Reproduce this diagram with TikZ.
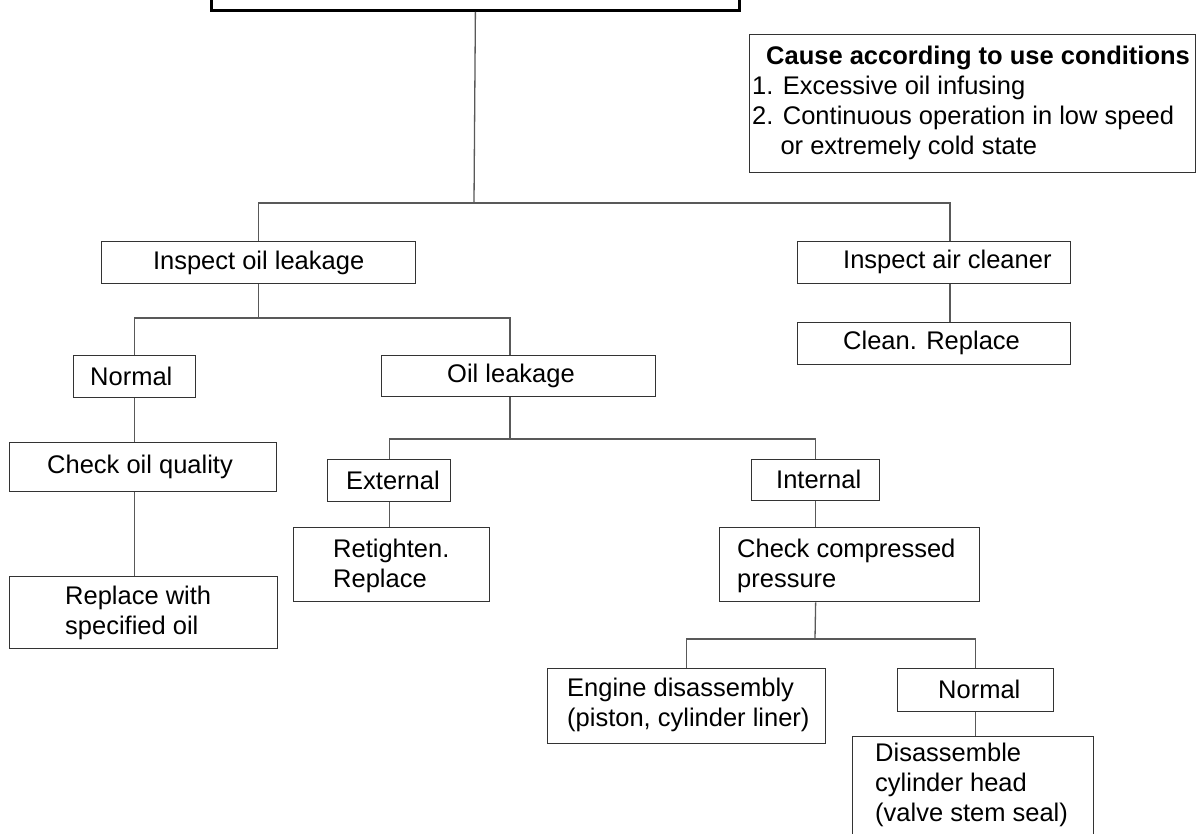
\documentclass[tikz,border=0pt]{standalone}
\usepackage{fontspec}
\setmainfont{Liberation Sans}
\begin{document}
\begin{tikzpicture}[x=1pt,y=-1pt,
  box/.style={draw=black!80, line width=1.3pt, rectangle, inner sep=0pt, anchor=north west},
  txt/.style={font=\fontsize{25.5}{30}\selectfont, inner sep=0pt, align=left, anchor=west},
  conn/.style={draw=black!65, line width=1.3pt}]
\clip (0,0) rectangle (1200,834);
\fill[white] (0,0) rectangle (1200,834);

% boxes
\node[box, draw=black, line width=2.8pt, minimum width=528pt, minimum height=49pt] (top) at (210,-40) {};
\node[box, minimum width=446pt, minimum height=138pt] (cause) at (749,34) {};
\node[box, minimum width=314pt, minimum height=42pt] (ioil) at (101,241) {};
\node[box, minimum width=273pt, minimum height=42pt] (iair) at (797,241) {};
\node[box, minimum width=273pt, minimum height=42pt] (clean) at (797,322) {};
\node[box, minimum width=122pt, minimum height=42pt] (norm1) at (73,355) {};
\node[box, minimum width=274pt, minimum height=41pt] (oleak) at (381,355) {};
\node[box, minimum width=267pt, minimum height=49pt] (coq) at (9,442) {};
\node[box, minimum width=268pt, minimum height=72pt] (repl) at (9,576) {};
\node[box, minimum width=123pt, minimum height=42pt] (ext) at (327,459) {};
\node[box, minimum width=128pt, minimum height=41pt] (int) at (751,459) {};
\node[box, minimum width=196pt, minimum height=74pt] (ret) at (293,527) {};
\node[box, minimum width=260pt, minimum height=74pt] (ccp) at (719,527) {};
\node[box, minimum width=278pt, minimum height=75pt] (eng) at (547,668) {};
\node[box, minimum width=156pt, minimum height=43pt] (nor2) at (897,668) {};
\node[box, minimum width=241pt, minimum height=130pt] (dis) at (852,736) {};

% texts
\node[txt] (tcause) at (752,103)
  {\hspace*{14pt}\textbf{Cause according to use conditions}\\
   1. Excessive oil infusing\\
   2. Continuous operation in low speed\\
   \hphantom{2.\ }or extremely cold state};
\node[txt, anchor=center] (tioil) at (ioil.center) {Inspect oil leakage};
\node[txt] (tiair) at (843,262) {Inspect air cleaner};
\node[txt] (tclean) at (843,343) {Clean. Replace};
\node[txt] (tnorm1) at (90,376) {Normal};
\node[txt] (toleak) at (447,376) {Oil leakage};
\node[txt] (tcoq) at (47,467) {Check oil quality};
\node[txt] (trepl) at (65,613) {Replace with\\specified oil};
\node[txt] (text) at (346,480) {External};
\node[txt] (tint) at (776,479) {Internal};
\node[txt] (tret) at (333,566) {Retighten.\\Replace};
\node[txt] (tccp) at (737,566) {Check compressed\\pressure};
\node[txt] (teng) at (567,705) {Engine disassembly\\(piston, cylinder liner)};
\node[txt] (tnor2) at (938,689) {Normal};
\node[txt] (tdis) at (875,785) {Disassemble\\cylinder head\\(valve stem seal)};

% connectors
\coordinate (b1) at (474,203);
\coordinate (b1r) at (950,203);
\draw[conn] (top.south) -- (b1);
\draw[conn] (ioil.north) |- (b1r) -- (b1r |- iair.north);
\draw[conn] (b1r |- iair.south) -- (b1r |- clean.north);

\coordinate (b2l) at (134,318);
\coordinate (b2r) at (510,318);
\draw[conn] (ioil.south) -- (ioil.south |- b2l);
\draw[conn] (norm1.north) |- (b2r) -- (b2r |- oleak.north);
\draw[conn] (norm1.south) -- (norm1.south |- coq.north);
\draw[conn] (norm1.south |- coq.south) -- (norm1.south |- repl.north);

\coordinate (b3) at (510,439);
\draw[conn] (b2r |- oleak.south) -- (b3);
\draw[conn] (ext.north) |- (b3) -| (int.north);
\draw[conn] (ext.south) -- (ext.south |- ret.north);
\draw[conn] (int.south) -- (int.south |- ccp.north);

\coordinate (b4) at (815,639);
\draw[conn] (int.south |- ccp.south) -- (b4);
\draw[conn] (eng.north) |- (b4) -| (nor2.north);
\draw[conn] (nor2.south) -- (nor2.south |- dis.north);
\end{tikzpicture}
\end{document}
